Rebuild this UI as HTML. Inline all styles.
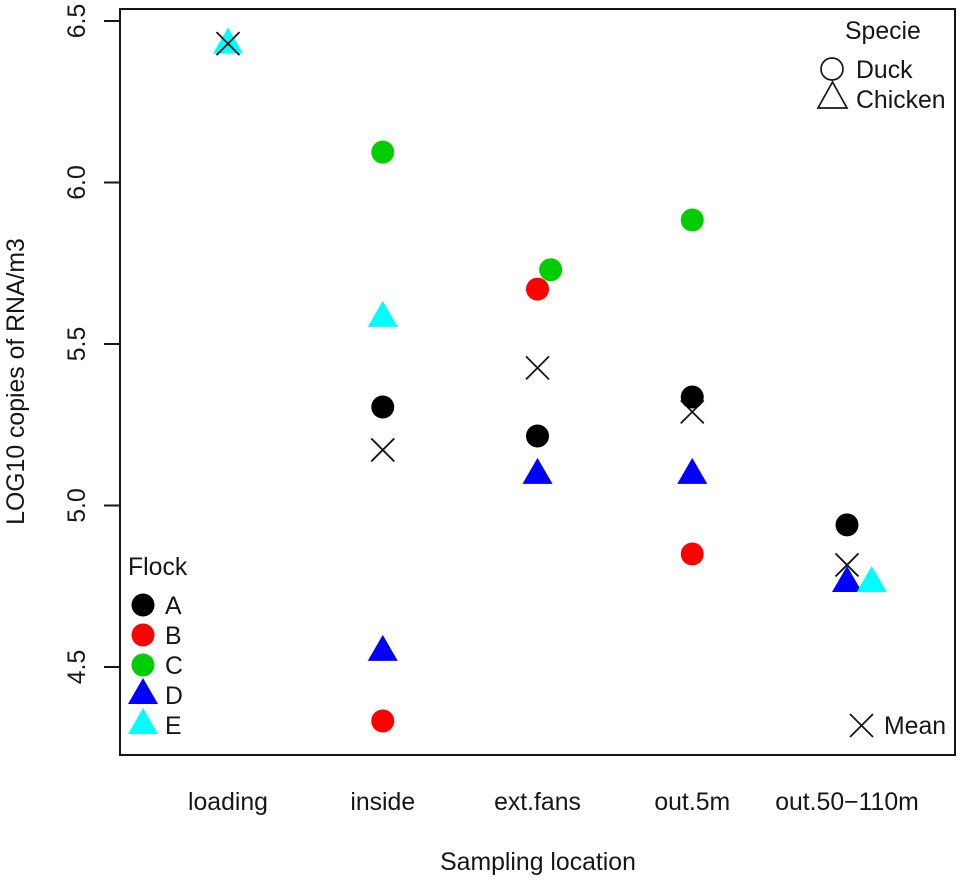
<!DOCTYPE html>
<html lang="en">
<head>
<meta charset="utf-8">
<title>LOG10 copies of RNA/m3 by sampling location</title>
<style>
html,body{margin:0;padding:0;background:#fff;width:962px;height:881px;overflow:hidden}
svg{display:block;filter:blur(0.35px)}
text{font-family:"Liberation Sans",Arial,sans-serif;font-size:24.8px;fill:#161616}
</style>
</head>
<body>
<svg id="chart" width="962" height="881" viewBox="0 0 962 881" xmlns="http://www.w3.org/2000/svg">
  <rect x="120" y="9" width="835" height="746" fill="#fff" stroke="#161616" stroke-width="2"/>
  <g id="yaxis"></g>
  <g id="xaxis"></g>
  <text transform="translate(24,381.5) rotate(-90)" text-anchor="middle">LOG10 copies of RNA/m3</text>
  <text x="538" y="870" text-anchor="middle">Sampling location</text>
  <g id="marks"></g>

  <g>
    <text x="128" y="575">Flock</text>
    <circle cx="143" cy="605" r="11.5" fill="#000"/>
    <text x="165" y="614">A</text>
    <circle cx="143" cy="635" r="11.5" fill="#ff0000"/>
    <text x="165" y="644">B</text>
    <circle cx="143" cy="665" r="11.5" fill="#00cd00"/>
    <text x="165" y="674">C</text>
    <polygon points="143,678 158,704 128,704" fill="#0000ff"/>
    <text x="165" y="704">D</text>
    <polygon points="143,708 158,734 128,734" fill="#00ffff"/>
    <text x="165" y="734">E</text>
  </g>

  <g>
    <text x="845" y="39">Specie</text>
    <circle cx="832" cy="69" r="11" fill="none" stroke="#161616" stroke-width="1.7"/>
    <text x="856" y="78">Duck</text>
    <polygon points="832.5,82 847,108 818,108" fill="none" stroke="#161616" stroke-width="1.7"/>
    <text x="856" y="108">Chicken</text>
  </g>

  <g>
    <path d="M850 714L873 737M873 714L850 737" fill="none" stroke="#161616" stroke-width="1.8"/>
    <text x="884" y="734">Mean</text>
  </g>
</svg>
<script>
var categories = ['loading', 'inside', 'ext.fans', 'out.5m', 'out.50\u2212110m'];
var yTicks = [4.5, 5.0, 5.5, 6.0, 6.5];
var yTickLabels = ['4.5', '5.0', '5.5', '6.0', '6.5'];
var flockA = [null, 5.305, 5.215, 5.336, 4.94];
var flockB = [null, 4.333, 5.67, 4.85, null];
var flockC = [null, 6.094, 5.73, 5.884, null];
var flockD = [null, 4.55, 5.098, 5.098, 4.763];
var flockE = [6.43, 5.584, null, null, 4.763];
var meanValues = [6.43, 5.172, 5.426, 5.29, 4.816];
var dodgeC = [0, 0, 0.085, 0, 0];
var dodgeE = [0, 0, 0, 0, 0.16];

var NS = 'http://www.w3.org/2000/svg';
function xScale(i) { return 228 + i * 154.75; }
function yScale(v) { return 21 + (6.5 - v) * 323; }
function make(tag, attrs, parent) {
  var el = document.createElementNS(NS, tag);
  for (var k in attrs) { el.setAttribute(k, attrs[k]); }
  parent.appendChild(el);
  return el;
}

var yaxis = document.getElementById('yaxis');
yTicks.forEach(function (t, i) {
  var y = yScale(t);
  var tick = make('line', { x1: 104, x2: 120, y1: y, y2: y, stroke: '#161616', 'stroke-width': 2 }, yaxis);
  
  
  var lab = make('text', { transform: 'translate(85,' + y + ') rotate(-90)', 'text-anchor': 'middle' }, yaxis);
  lab.textContent = yTickLabels[i];
  
  
});

var xaxis = document.getElementById('xaxis');
categories.forEach(function (c, i) {
  var lab = make('text', { x: xScale(i), y: 810, 'text-anchor': 'middle' }, xaxis);
  lab.textContent = c;
  
  
});

var marks = document.getElementById('marks');
function drawCircles(values, color, dodge) {
  values.forEach(function (v, i) {
    if (v === null) { return; }
    var off = dodge ? dodge[i] : 0;
    var c = make('circle', { cx: xScale(i + off), cy: yScale(v), r: 11.5, fill: color }, marks);
    
    
  });
}
function drawTriangles(values, color, dodge) {
  values.forEach(function (v, i) {
    if (v === null) { return; }
    var off = dodge ? dodge[i] : 0;
    var x = xScale(i + off), y = yScale(v);
    var pts = x + ',' + (y - 16) + ' ' + (x + 15) + ',' + (y + 10) + ' ' + (x - 15) + ',' + (y + 10);
    var t = make('polygon', { points: pts, fill: color }, marks);
    
    
  });
}
drawTriangles(flockD, '#0000ff');
drawTriangles(flockE, '#00ffff', dodgeE);
meanValues.forEach(function (v, i) {
  var x = xScale(i), y = yScale(v), h = 11.5;
  var d = 'M' + (x - h) + ' ' + (y - h) + 'L' + (x + h) + ' ' + (y + h) + 'M' + (x + h) + ' ' + (y - h) + 'L' + (x - h) + ' ' + (y + h);
  var m = make('path', { d: d, fill: 'none', stroke: '#161616', 'stroke-width': 1.8 }, marks);
  
  
});
drawCircles(flockA, '#000000');
drawCircles(flockB, '#ff0000');
drawCircles(flockC, '#00cd00', dodgeC);
</script>
</body>
</html>
